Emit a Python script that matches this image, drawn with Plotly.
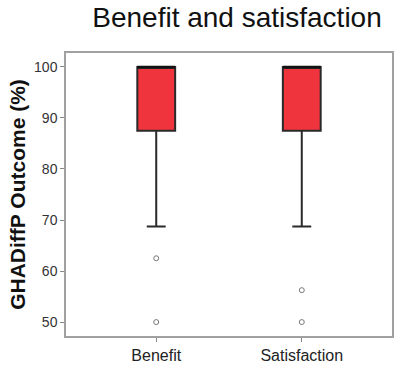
import plotly.graph_objects as go

categories = ["Benefit", "Satisfaction"]
q1 = [87.5, 87.5]
median = [100, 100]
q3 = [100, 100]
lower_whisker = [68.75, 68.75]
upper_whisker = [100, 100]
outliers = {
    "Benefit": [62.5, 50],
    "Satisfaction": [56.25, 50],
}
y_ticks = [50, 60, 70, 80, 90, 100]

fig = go.Figure()

fig.add_trace(go.Box(
    x=categories,
    q1=q1,
    median=median,
    q3=q3,
    lowerfence=lower_whisker,
    upperfence=upper_whisker,
    fillcolor="#F0343E",
    line=dict(color="#2a2a2a", width=2),
    whiskerwidth=0.5,
    width=0.26,
    boxpoints=False,
    hoverinfo="skip",
    showlegend=False,
))

# Outlying observations drawn as open circles
for cat, vals in outliers.items():
    fig.add_trace(go.Scatter(
        x=[cat] * len(vals),
        y=vals,
        mode="markers",
        marker=dict(symbol="circle-open", size=5, color="#777777", line=dict(width=1)),
        showlegend=False,
        hoverinfo="skip",
    ))

# Black median line on top of each box
fig.add_trace(go.Box(
    x=categories, q1=median, median=median, q3=median,
    lowerfence=median, upperfence=median,
    line=dict(color="#111111", width=2.5),
    fillcolor="rgba(0,0,0,0)",
    whiskerwidth=0, width=0.26, boxpoints=False,
    showlegend=False, hoverinfo="skip",
))

fig.update_layout(
    width=395,
    height=365,
    margin=dict(l=66, r=1, t=53, b=28),
    paper_bgcolor="white",
    plot_bgcolor="white",
    font=dict(family="Liberation Sans, Arial, sans-serif", color="#222222"),
    title=dict(
        text="Benefit and satisfaction",
        x=0.6, xanchor="center",
        y=0.953, yanchor="middle",
        font=dict(size=28, color="#111111"),
    ),
    boxmode="overlay",
)

fig.update_xaxes(
    range=[-0.62, 1.62],
    showgrid=False,
    showline=True, linecolor="#a0a0a0", linewidth=1.5, mirror=True,
    ticks="outside", ticklen=4, tickcolor="#888888",
    tickfont=dict(size=16, color="#222222"),
)

fig.update_yaxes(
    range=[47.27, 102.73],
    tickvals=y_ticks,
    showgrid=False, zeroline=False,
    showline=True, linecolor="#a0a0a0", linewidth=1.5, mirror=True,
    ticks="outside", ticklen=4, tickcolor="#888888",
    tickfont=dict(size=14, color="#333333"),
    title=dict(text="<b>GHADiffP Outcome (%)</b>", font=dict(size=21, color="#111111"), standoff=3),
)

fig.write_html("out.html")
